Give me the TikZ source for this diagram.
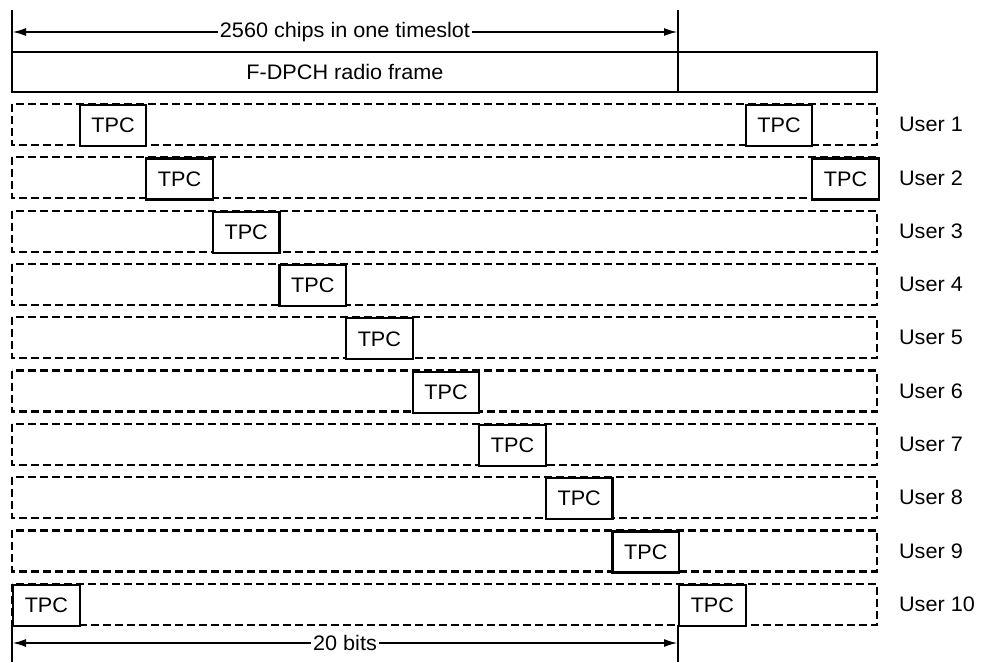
\documentclass[tikz,border=0pt]{standalone}
\usepackage{fontspec}
\setmainfont{Liberation Sans}[FakeStretch=1.03]
\usetikzlibrary{arrows.meta}

\begin{document}
\begin{tikzpicture}[x=1pt, y=-1pt, >={Latex[length=14pt,width=8pt]}, line width=2.2pt,
        every node/.style={font=\fontsize{21}{23}\selectfont, inner sep=0pt},
        userrow/.style={dash pattern=on 8pt off 4pt},
        tpc/.style={draw, solid, fill=white, minimum width=66.6pt, minimum height=41pt, anchor=north west}]
        \useasboundingbox (0,0) rectangle (981,662);

        % Zeitschlitz
        \draw (12,10) -- (12,52);
        \draw (678,10) -- (678,92);
        \coordinate (slotl) at (12,32);
        \coordinate (slotr) at (678,32);
        \node[inner xsep=1pt] (chips) at (345,32) {2560 chips in one timeslot};
        \draw[->] (chips) -- (slotl);
        \draw[->] (chips) -- (slotr);

        % Rahmen
        \draw (12,52) rectangle (877,92);
        \draw (678,52) -- (678,92);
        \node (frame) at (345,72) {F-DPCH radio frame};

        % Benutzer
        \foreach \k in {1,...,10} {
            \pgfmathsetmacro\ry{104+(\k-1)*53.3}
            \draw[userrow] (12,\ry) rectangle (877,\ry+41);
            \node[anchor=west] (user\k) at (898,\ry+20.5) {User \k};
        }

        % TPC
        \foreach \k in {1,...,9} {
            \pgfmathsetmacro\ry{104+(\k-1)*53.3}
            \node[tpc] (tpc\k) at (12+\k*66.6,\ry) {TPC};
        }
        \node[tpc] (tpcx1) at (12+11*66.6,104) {TPC};
        \node[tpc] (tpcx2) at (12+12*66.6,157.3) {TPC};
        \node[tpc] (tpc10) at (12,583.7) {TPC};
        \node[tpc] (tpcx10) at (678,583.7) {TPC};

        % Bits
        \draw (12,624.7) -- (12,662);
        \draw (678,624.7) -- (678,662);
        \coordinate (bitsl) at (12,643);
        \coordinate (bitsr) at (678,643);
        \node[inner xsep=1pt] (bits) at (345,643) {20 bits};
        \draw[->] (bits) -- (bitsl);
        \draw[->] (bits) -- (bitsr);
    \end{tikzpicture}
\end{document}
